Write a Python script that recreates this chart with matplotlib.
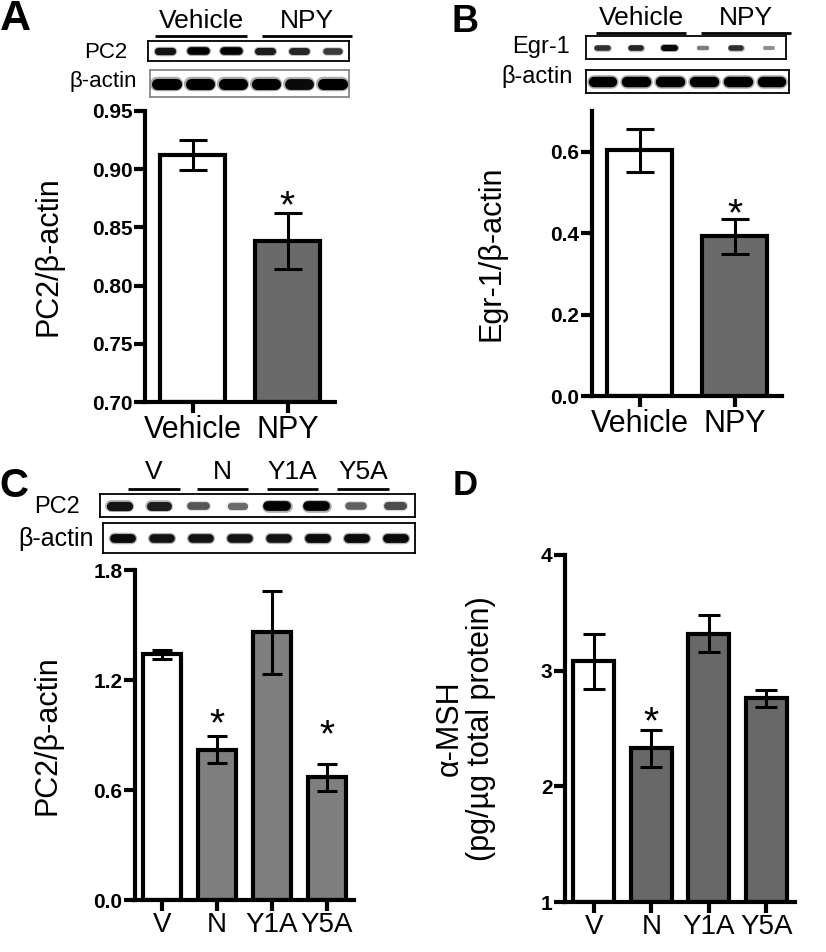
import numpy as np
import matplotlib
matplotlib.use("Agg")
import matplotlib.pyplot as plt

plt.rcParams['font.family'] = ['Liberation Sans', 'DejaVu Sans']

# ---- data ----
a_labels = ["Vehicle", "NPY"]
a_means = [0.912, 0.838]
a_errs = [0.013, 0.024]
a_stars = [False, True]

b_labels = ["Vehicle", "NPY"]
b_means = [0.603, 0.392]
b_errs = [0.052, 0.043]
b_stars = [False, True]

c_labels = ["V", "N", "Y1A", "Y5A"]
c_means = [1.34, 0.82, 1.46, 0.67]
c_errs = [0.025, 0.072, 0.225, 0.073]
c_stars = [False, True, False, True]

d_labels = ["V", "N", "Y1A", "Y5A"]
d_means = [3.08, 2.33, 3.32, 2.76]
d_errs = [0.24, 0.16, 0.16, 0.076]
d_stars = [False, True, False, False]

# blot band densities (0 = none, 1 = full)
a_groups = [("Vehicle", 3), ("NPY", 3)]
a_pc2_band = [0.9, 1.0, 1.0, 0.85, 0.8, 0.7]
a_actin_band = [1.0, 1.0, 1.0, 1.0, 0.95, 1.0]

b_groups = [("Vehicle", 3), ("NPY", 3)]
b_egr1_band = [0.75, 0.8, 0.95, 0.35, 0.75, 0.25]
b_actin_band = [1.0, 1.0, 1.0, 1.0, 1.0, 1.0]

c_groups = [("V", 2), ("N", 2), ("Y1A", 2), ("Y5A", 2)]
c_pc2_band = [0.9, 0.85, 0.55, 0.45, 1.0, 1.0, 0.5, 0.6]
c_actin_band = [0.95, 0.9, 0.9, 0.9, 0.9, 0.95, 0.95, 0.95]

W, H = 826, 952
fig = plt.figure(figsize=(W / 100, H / 100), dpi=100)


def rect(x0, y0, x1, y1):
    return [x0 / W, 1 - y1 / H, (x1 - x0) / W, (y1 - y0) / H]


def bar_panel(ax, labels, means, errs, stars, colors, ylim, yticks, ytl,
              ylabel, width, capsize, star_gap, xfs, ylab_x, ylab_fs=22):
    x = np.arange(len(labels))
    base = ylim[0]
    ax.bar(x, np.array(means) - base, bottom=base, width=width, color=colors,
           edgecolor='black', linewidth=3, zorder=2)
    ax.errorbar(x, means, yerr=errs, fmt='none', ecolor='black', elinewidth=2.2,
                capsize=capsize, capthick=2.2, zorder=3)
    star_fs = 28
    for i, s in enumerate(stars):
        if s:
            off = (star_gap[i] - 0.59 * star_fs * 1.389) / 1.389
            ax.annotate('*', (x[i], means[i] + errs[i]), xytext=(0, off),
                        textcoords='offset points', ha='center', va='baseline',
                        fontsize=star_fs)
    ax.set_xlim(-0.5, len(labels) - 0.5)
    ax.set_ylim(*ylim)
    ax.set_yticks(yticks)
    ax.set_yticklabels(ytl, fontweight='bold', fontsize=15)
    ax.set_xticks(x)
    ax.set_xticklabels(labels, fontsize=xfs)
    for sp in ['top', 'right']:
        ax.spines[sp].set_visible(False)
    for sp in ['left', 'bottom']:
        ax.spines[sp].set_linewidth(3)
    ax.tick_params(axis='y', direction='out', length=8, width=3, pad=1)
    ax.tick_params(axis='x', direction='out', length=8, width=3, pad=1)
    ax.set_ylabel(ylabel, fontsize=ylab_fs, linespacing=1.05)
    ax.yaxis.set_label_coords(ylab_x, 0.5)


def draw_blot(ax, bands, seg, thick, frame_col='black'):
    n = len(bands)
    ax.set_xlim(0, n)
    ax.set_ylim(0, 1)
    ax.set_xticks([])
    ax.set_yticks([])
    for sp in ax.spines.values():
        sp.set_linewidth(1.3)
        sp.set_color(frame_col)
    for i, v in enumerate(bands):
        xc = i + 0.5
        half = seg * (0.55 + 0.45 * v) / 2
        lw = thick * (0.55 + 0.45 * v)
        g = 0.75 * (1 - v)
        ax.plot([xc - half, xc + half], [0.5, 0.5], lw=lw * 1.3,
                color=str(min(1, g + 0.45)), solid_capstyle='round', alpha=0.6)
        ax.plot([xc - half, xc + half], [0.5, 0.5], lw=lw,
                color=str(g), solid_capstyle='round')


def blot_header(ax, groups, y_txt, y_line, spans, fs):
    for (name, k), (s0, s1) in zip(groups, spans):
        ax.text((s0 + s1) / 2, y_txt, name, ha='center', va='center',
                fontsize=fs, transform=ax.transData, clip_on=False)
        ax.plot([s0, s1], [y_line, y_line], color='black', lw=2, clip_on=False,
                solid_capstyle='butt')


# ---------------- Panel A ----------------
axA = fig.add_axes(rect(145, 111, 335, 402))
bar_panel(axA, a_labels, a_means, a_errs, a_stars, ['white', '#6a6a6a'],
          (0.70, 0.95), [0.70, 0.75, 0.80, 0.85, 0.90, 0.95],
          ['0.70', '0.75', '0.80', '0.85', '0.90', '0.95'],
          'PC2/β-actin', 0.674, 10, [0, 19], 22, -0.43)

blA1 = fig.add_axes(rect(148, 41, 349, 61))
draw_blot(blA1, a_pc2_band, 0.45, 5.5)
blA2 = fig.add_axes(rect(150, 70, 349, 97))
draw_blot(blA2, a_actin_band, 0.55, 8, frame_col='#888888')
lane = 201 / 6
hA = 20
blot_header(blA1, a_groups, 1 + (41 - 21) / hA, 1 + (41 - 36) / hA,
            [((155 - 148) / lane, (247 - 148) / lane),
             ((262 - 148) / lane, (352 - 148) / lane)], 19)
fig.text(127 / W, 1 - 53 / H, 'PC2', ha='right', va='center', fontsize=16)
fig.text(137 / W, 1 - 81 / H, 'β-actin', ha='right', va='center', fontsize=16)
fig.text(15 / W, 1 - 19 / H, 'A', ha='center', va='center', fontsize=31,
         fontweight='bold')

# ---------------- Panel B ----------------
axB = fig.add_axes(rect(592, 111, 782, 396))
bar_panel(axB, b_labels, b_means, b_errs, b_stars, ['white', '#6a6a6a'],
          (0.0, 0.7), [0.0, 0.2, 0.4, 0.6], ['0.0', '0.2', '0.4', '0.6'],
          'Egr-1/β-actin', 0.674, 10, [0, 17], 22, -0.45)

blB1 = fig.add_axes(rect(586, 36, 786, 59))
draw_blot(blB1, b_egr1_band, 0.35, 4.5)
blB2 = fig.add_axes(rect(586, 70, 789, 93))
draw_blot(blB2, b_actin_band, 0.55, 7.5)
lane = 200 / 6
hB = 23
blot_header(blB1, b_groups, 1 + (36 - 18) / hB, 1 + (36 - 33) / hB,
            [((596 - 586) / lane, (686 - 586) / lane),
             ((701 - 586) / lane, (791 - 586) / lane)], 19)
fig.text(570 / W, 1 - 47 / H, 'Egr-1', ha='right', va='center', fontsize=17)
fig.text(573 / W, 1 - 77 / H, 'β-actin', ha='right', va='center', fontsize=17)
fig.text(465 / W, 1 - 22 / H, 'B', ha='center', va='center', fontsize=27,
         fontweight='bold')

# ---------------- Panel C ----------------
axC = fig.add_axes(rect(135, 570, 354, 900))
bar_panel(axC, c_labels, c_means, c_errs, c_stars, ['white'] + ['#7f7f7f'] * 3,
          (0.0, 1.8), [0.0, 0.6, 1.2, 1.8], ['0.0', '0.6', '1.2', '1.8'],
          'PC2/β-actin', 0.695, 7, [0, 24, 0, 40], 20, -0.33)

blC1 = fig.add_axes(rect(100, 494, 415, 517))
draw_blot(blC1, c_pc2_band, 0.45, 7)
blC2 = fig.add_axes(rect(103, 523, 415, 553))
draw_blot(blC2, c_actin_band, 0.45, 6.5)
lane = 315 / 8
hC = 23
blot_header(blC1, c_groups, 1 + (494 - 472) / hC, 1 + (494 - 489) / hC,
            [((128 - 100) / lane, (180 - 100) / lane),
             ((197 - 100) / lane, (248 - 100) / lane),
             ((267 - 100) / lane, (318 - 100) / lane),
             ((337 - 100) / lane, (389 - 100) / lane)], 19)
fig.text(80 / W, 1 - 507 / H, 'PC2', ha='right', va='center', fontsize=17)
fig.text(94 / W, 1 - 539 / H, 'β-actin', ha='right', va='center', fontsize=18)
fig.text(14 / W, 1 - 486 / H, 'C', ha='center', va='center', fontsize=29,
         fontweight='bold')

# ---------------- Panel D ----------------
axD = fig.add_axes(rect(565, 555, 795, 902))
bar_panel(axD, d_labels, d_means, d_errs, d_stars, ['white'] + ['#686868'] * 3,
          (1, 4), [1, 2, 3, 4], ['1', '2', '3', '4'],
          'α-MSH\n(pg/µg total protein)', 0.713, 8, [0, 19, 0, 0], 20, -0.30)
fig.text(465 / W, 1 - 486 / H, 'D', ha='center', va='center', fontsize=25,
         fontweight='bold')

fig.savefig("out.png", dpi=100)
